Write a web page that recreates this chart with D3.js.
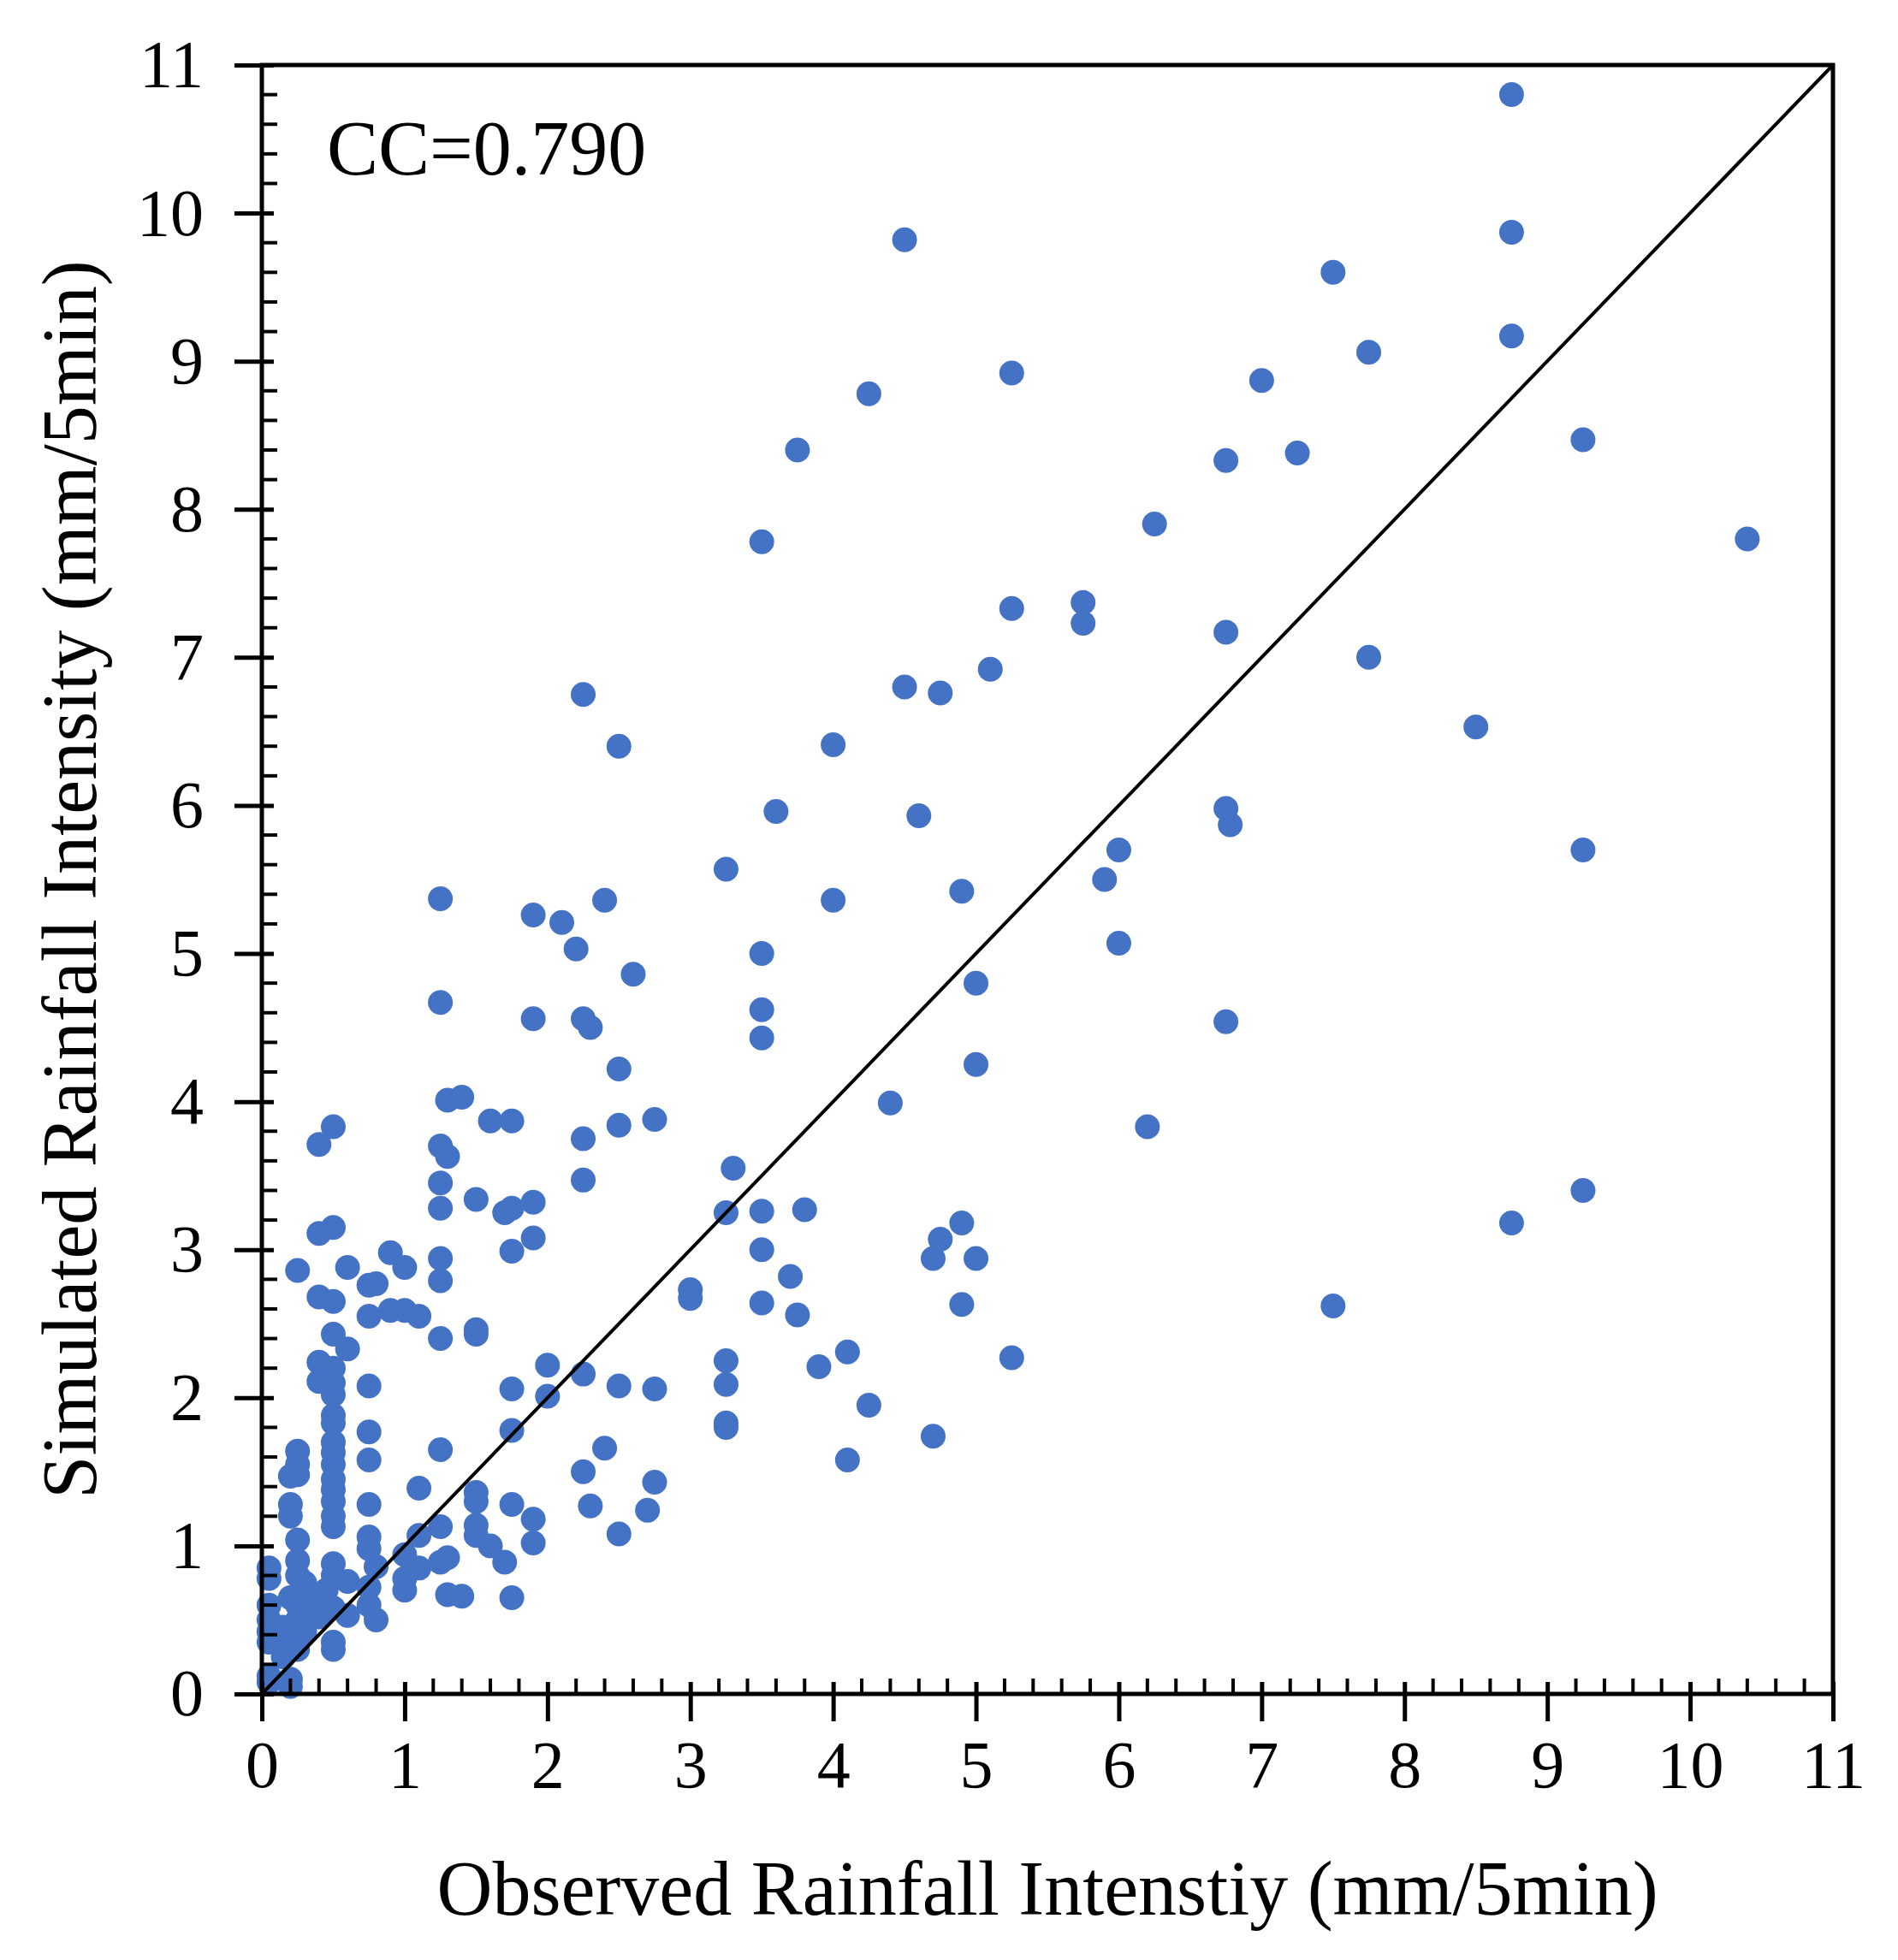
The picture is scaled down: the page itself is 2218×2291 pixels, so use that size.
<!DOCTYPE html><html><head><meta charset="utf-8">
<script src="https://cdn.jsdelivr.net/npm/d3@7"></script>
<style>body{margin:0;background:#fff}</style></head><body>
<script>
const obs=[8.75,4.5,8.75,7.5,8.75,7.75,5.25,7,4.25,9.25,3.75,7.25,6.75,6.25,3.5,10.4,5.75,5.25,5.75,6.75,7.75,5.1,4.5,4.75,2.25,8.5,2.5,4,3.6,4.6,6.75,6.78,6,9.25,3.25,5.9,4.9,1.25,2.4,4,1.9,2.1,2.2,3.5,6,2.6,5,1.25,3.5,1.9,2.25,2.3,6.75,3.5,5,2.5,1.3,1.4,4.4,1.6,1.75,2.75,2.5,6.2,0.5,0.4,1.25,2.25,1.3,3.3,1.25,2.25,9.25,1.5,1.9,1.25,1.7,1.75,3.25,3.5,3.8,0.5,0.4,4.9,8.75,1.9,4.75,1.75,3.5,0.9,1.25,4.7,5,0.6,0.25,1,0.75,0.8,1.25,3.7,3,3,0.4,0.5,3.5,4.9,7.5,0.9,1,1.1,0.75,3.75,1.5,1.5,0.5,1.25,0.6,4.1,3.25,5.25,0.4,0.5,2,3.9,2.25,0.4,0.5,0.75,2.5,3.25,2.75,1.75,2,0.5,4.25,0.5,0.5,3.25,3.25,1.75,0.75,4.7,0.5,0.5,0.25,1.25,2.4,0.25,0.75,4.1,0.5,0.25,0.2,2.25,0.5,2.75,0.5,1.1,1.5,0.5,1.5,0.2,0.75,1.75,2.3,2.7,0.5,0.2,1.5,1.9,1.25,0.5,2.5,1.5,0.75,1.1,1.6,0.25,1.9,0.75,1,1.3,1.7,1.25,0.5,0.25,0.8,1.1,0.05,0.05,0.5,0.25,1,0.6,0.3,0.75,1,0.45,1.3,1.4,1.75,0.2,0.35,0.25,0.05,0.75,0.5,0.6,0.8,0.4,0.05,0.25,0.15,0.05,0.3,0.2,0.05,0.5,0.5,0.25,0.15,0.05,0.2,0.05,0.2];
const sim=[10.8,9.82,9.87,9.6,9.17,9.06,8.92,8.87,8.78,8.47,8.4,8.38,8.33,7.9,7.78,7.8,7.37,7.33,7.23,7.17,7.0,6.92,6.8,6.76,6.75,6.53,6.4,6.41,5.96,5.93,5.98,5.87,5.7,5.7,5.57,5.5,5.42,5.37,5.36,5.36,5.26,5.21,5.03,5.0,5.07,4.86,4.8,4.67,4.62,4.56,4.56,4.5,4.54,4.43,4.25,4.22,4.01,4.03,3.99,3.87,3.87,3.88,3.84,3.83,3.83,3.71,3.7,3.75,3.63,3.55,3.45,3.47,3.4,3.34,3.32,3.28,3.25,3.28,3.25,3.26,3.27,3.15,3.11,3.18,3.18,3.08,3.07,2.99,3.0,2.98,2.94,2.94,2.94,2.88,2.86,2.88,2.76,2.77,2.79,2.82,2.73,2.67,2.68,2.65,2.64,2.63,2.62,2.59,2.59,2.55,2.55,2.56,2.46,2.43,2.43,2.4,2.33,2.31,2.25,2.27,2.24,2.2,2.22,2.21,2.16,2.11,2.1,2.08,2.08,2.09,2.06,2.06,2.01,2.02,1.95,1.88,1.83,1.83,1.8,1.78,1.77,1.74,1.7,1.63,1.64,1.65,1.66,1.55,1.58,1.58,1.55,1.48,1.47,1.5,1.45,1.43,1.38,1.39,1.36,1.3,1.3,1.28,1.28,1.28,1.27,1.24,1.2,1.2,1.14,1.18,1.13,1.13,1.08,1.07,1.06,1.07,1.0,1.04,1.02,0.98,0.94,0.92,0.89,0.89,0.88,0.9,0.86,0.85,0.85,0.78,0.8,0.8,0.78,0.76,0.75,0.72,0.7,0.7,0.67,0.66,0.65,0.65,0.65,0.6,0.6,0.6,0.58,0.53,0.5,0.52,0.5,0.5,0.45,0.42,0.42,0.38,0.35,0.35,0.3,0.3,0.25,0.12,0.1,0.08,0.05];
const ticks=[0,1,2,3,4,5,6,7,8,9,10,11];
const W=2218,H=2291,L=306,R=2142,T=76,B=1980;
const svg=d3.select("body").append("svg").attr("width",W).attr("height",H);
const x=d3.scaleLinear().domain([0,11]).range([L,R]);
const y=d3.scaleLinear().domain([0,11]).range([B,T]);
const font="'Liberation Serif','Times New Roman',serif";
svg.append("g").selectAll("circle").data(obs.map((o,i)=>[o,sim[i]])).join("circle")
 .attr("cx",d=>x(d[0])).attr("cy",d=>y(d[1])).attr("r",14.5).attr("fill","#4472c4");
svg.append("line").attr("x1",x(0)).attr("y1",y(0)).attr("x2",x(11)).attr("y2",y(11)).attr("stroke","#000").attr("stroke-width",4);
svg.append("rect").attr("x",L).attr("y",T).attr("width",R-L).attr("height",B-T).attr("fill","none").attr("stroke","#000").attr("stroke-width",5);
const minor=d3.range(0,11.01,0.2).map(v=>+v.toFixed(1)).filter(v=>Math.abs(v-Math.round(v))>0.01);
const gx=svg.append("g").attr("transform",`translate(0,${B})`);
gx.call(d3.axisBottom(x).tickValues(ticks).tickSize(32).tickSizeOuter(0).tickPadding(22).tickFormat(d3.format("d")));
gx.selectAll(".tick line").attr("y1",-14).attr("stroke-width",5);
gx.select(".domain").remove();
gx.selectAll("text").attr("font-family",font).attr("font-size",78).attr("fill","#000");
gx.selectAll(".mn").data(minor).join("line").attr("x1",d=>x(d)).attr("x2",d=>x(d)).attr("y1",0).attr("y2",-18).attr("stroke","#000").attr("stroke-width",4);
const gy=svg.append("g").attr("transform",`translate(${L},0)`);
gy.call(d3.axisLeft(y).tickValues(ticks).tickSize(32).tickSizeOuter(0).tickPadding(36).tickFormat(d3.format("d")));
gy.selectAll(".tick line").attr("x1",14).attr("stroke-width",5);
gy.select(".domain").remove();
gy.selectAll("text").attr("font-family",font).attr("font-size",78).attr("fill","#000");
gy.selectAll(".mn").data(minor).join("line").attr("y1",d=>y(d)).attr("y2",d=>y(d)).attr("x1",0).attr("x2",18).attr("stroke","#000").attr("stroke-width",4);
svg.append("text").attr("x",(L+R)/2).attr("y",2238).attr("text-anchor","middle").attr("font-family",font).attr("font-size",90).text("Observed Rainfall Intenstiy (mm/5min)");
svg.append("text").attr("transform",`translate(112,${(T+B)/2}) rotate(-90)`).attr("text-anchor","middle").attr("font-family",font).attr("font-size",90).text("Simulated Rainfall Intensity (mm/5min)");
svg.append("text").attr("x",382).attr("y",204).attr("font-family",font).attr("font-size",90).text("CC=0.790");
</script></body></html>
